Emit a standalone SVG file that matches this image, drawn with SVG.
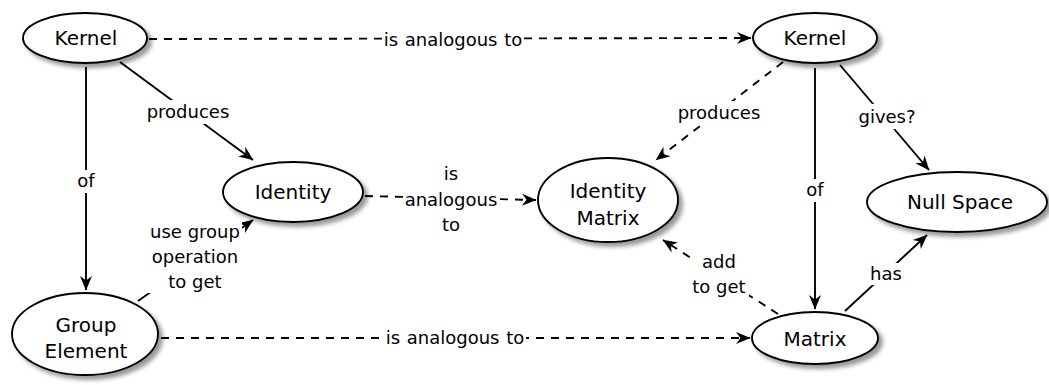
<svg xmlns="http://www.w3.org/2000/svg" width="1049" height="385" viewBox="0 0 1049 385">
  <style>
    .node ellipse { fill: #ffffff; stroke: #000000; stroke-width: 1.9; filter: url(#shadow); }
    .node text { font-family: "DejaVu Sans", "Liberation Sans", sans-serif; font-size: 20px; text-anchor: middle; fill: #000000; }
    .edge { fill: none; stroke: #000000; stroke-width: 1.9; }
    .dash { stroke-dasharray: 8 7; }
    .bg { fill: #ffffff; stroke: none; }
    .label { font-family: "DejaVu Sans", "Liberation Sans", sans-serif; font-size: 18px; text-anchor: middle; fill: #000000; }
  </style>
  <defs>
    <filter id="shadow" x="-20%" y="-20%" width="150%" height="160%">
      <feGaussianBlur in="SourceAlpha" stdDeviation="2.2" result="blur"/>
      <feOffset in="blur" dx="3.5" dy="3.5" result="off"/>
      <feComponentTransfer in="off" result="soft">
        <feFuncA type="linear" slope="0.4"/>
      </feComponentTransfer>
      <feMerge>
        <feMergeNode in="soft"/>
        <feMergeNode in="SourceGraphic"/>
      </feMerge>
    </filter>
    <marker id="arrow" viewBox="-15 -7 17 14" refX="0" refY="0" markerWidth="17" markerHeight="14" markerUnits="userSpaceOnUse" orient="auto">
      <path d="M0.5,0 L-14,-6 L-9.5,0 L-14,6 Z" fill="#000000" stroke="none"/>
    </marker>
  </defs>

  <rect width="1049" height="385" fill="#ffffff"/>

  <!-- connectors -->
  <g id="connectors">
    <!-- Kernel -> Kernel (analogy) -->
    <line class="edge dash" x1="149" y1="39" x2="751" y2="38" marker-end="url(#arrow)"/>
    <!-- Kernel -> Group Element -->
    <line class="edge" x1="86" y1="67" x2="86" y2="290" marker-end="url(#arrow)"/>
    <!-- Kernel -> Identity -->
    <line class="edge" x1="120" y1="62" x2="253" y2="160" marker-end="url(#arrow)"/>
    <!-- Group Element -> Identity -->
    <line class="edge" x1="138" y1="301" x2="253" y2="220" marker-end="url(#arrow)"/>
    <!-- Identity -> Identity Matrix -->
    <line class="edge dash" x1="365" y1="196" x2="536" y2="200" marker-end="url(#arrow)"/>
    <!-- Group Element -> Matrix -->
    <line class="edge dash" x1="161" y1="338" x2="750" y2="338" marker-end="url(#arrow)"/>
    <!-- Kernel (right) -> Identity Matrix -->
    <line class="edge dash" x1="783" y1="62" x2="656" y2="160" marker-end="url(#arrow)"/>
    <!-- Kernel (right) -> Matrix -->
    <line class="edge" x1="815" y1="68" x2="815" y2="309" marker-end="url(#arrow)"/>
    <!-- Kernel (right) -> Null Space -->
    <line class="edge" x1="840" y1="65" x2="929" y2="170" marker-end="url(#arrow)"/>
    <!-- Matrix -> Identity Matrix -->
    <line class="edge dash" x1="778" y1="314" x2="663" y2="240" marker-end="url(#arrow)"/>
    <!-- Matrix -> Null Space -->
    <line class="edge" x1="845" y1="311" x2="927" y2="235" marker-end="url(#arrow)"/>

    <!-- label backgrounds -->
    <rect class="bg" x="382" y="27" width="142" height="25"/>
    <rect class="bg" x="77" y="170" width="18" height="23"/>
    <rect class="bg" x="146" y="100" width="85" height="24"/>
    <rect class="bg" x="148" y="222" width="94" height="71"/>
    <rect class="bg" x="406" y="164" width="91" height="72"/>
    <rect class="bg" x="384" y="326" width="142" height="25"/>
    <rect class="bg" x="677" y="101" width="85" height="24"/>
    <rect class="bg" x="806" y="179" width="18" height="23"/>
    <rect class="bg" x="857" y="104" width="61" height="25"/>
    <rect class="bg" x="691" y="250" width="58" height="48"/>
    <rect class="bg" x="870" y="263" width="33" height="22"/>

    <!-- connector labels -->
    <text class="label" x="453" y="46" word-spacing="1">is analogous to</text>
    <text class="label" x="86" y="187">of</text>
    <text class="label" x="188" y="118">produces</text>
    <text class="label" x="195" y="238">use group</text>
    <text class="label" x="195" y="263">operation</text>
    <text class="label" x="195" y="288">to get</text>
    <text class="label" x="451" y="180">is</text>
    <text class="label" x="451" y="206">analogous</text>
    <text class="label" x="451" y="231">to</text>
    <text class="label" x="455" y="344" word-spacing="1">is analogous to</text>
    <text class="label" x="719" y="119">produces</text>
    <text class="label" x="815" y="196">of</text>
    <text class="label" x="887" y="123">gives?</text>
    <text class="label" x="719" y="268">add</text>
    <text class="label" x="719" y="293">to get</text>
    <text class="label" x="886" y="280">has</text>
  </g>

  <!-- nodes -->
  <g id="node-kernel-left" class="node">
    <ellipse cx="85" cy="38" rx="62" ry="25"/>
    <text x="86" y="45">Kernel</text>
  </g>
  <g id="node-identity" class="node">
    <ellipse cx="293" cy="192" rx="70" ry="30"/>
    <text x="293" y="199">Identity</text>
  </g>
  <g id="node-group-element" class="node">
    <ellipse cx="85" cy="334" rx="73" ry="41"/>
    <text x="86" y="332">Group</text>
    <text x="86" y="358">Element</text>
  </g>
  <g id="node-identity-matrix" class="node">
    <ellipse cx="608" cy="200" rx="70" ry="42"/>
    <text x="608" y="198">Identity</text>
    <text x="608" y="225">Matrix</text>
  </g>
  <g id="node-kernel-right" class="node">
    <ellipse cx="815" cy="38" rx="62" ry="25"/>
    <text x="815" y="45">Kernel</text>
  </g>
  <g id="node-null-space" class="node">
    <ellipse cx="957" cy="202" rx="90" ry="30"/>
    <text x="960" y="209">Null Space</text>
  </g>
  <g id="node-matrix" class="node">
    <ellipse cx="815" cy="338" rx="63" ry="26"/>
    <text x="815" y="346">Matrix</text>
  </g>
</svg>
